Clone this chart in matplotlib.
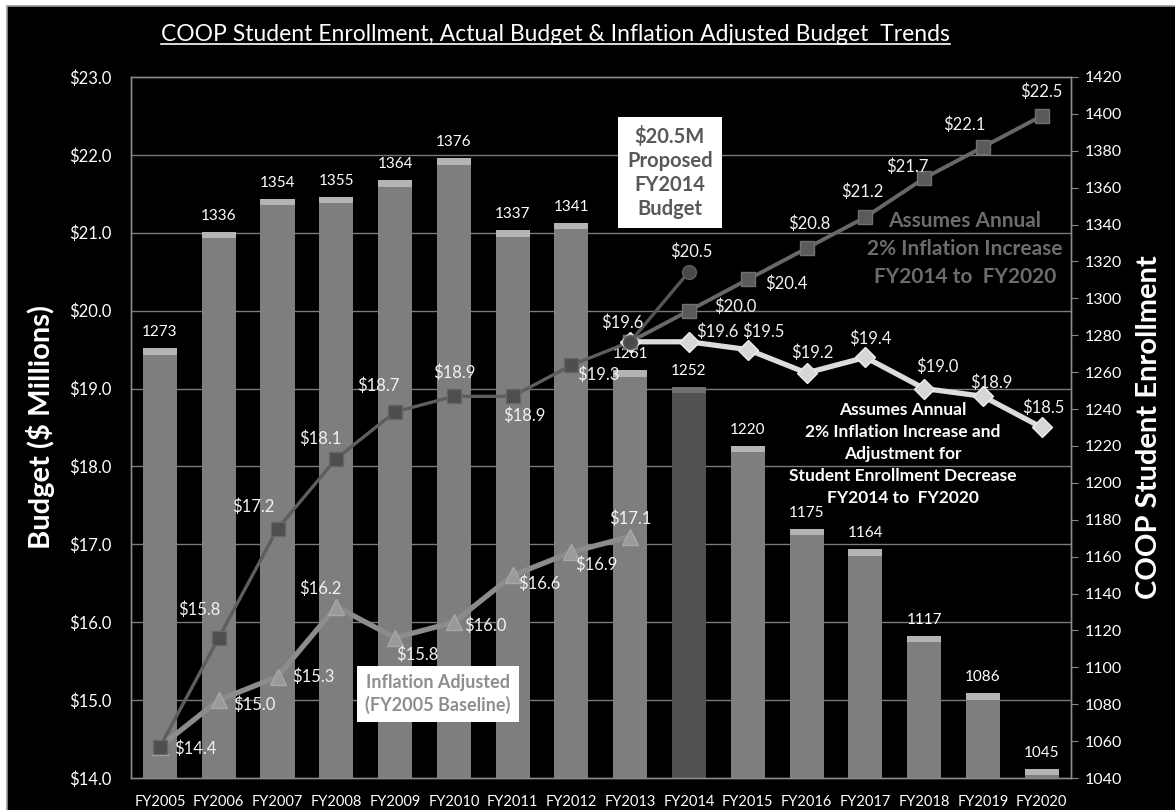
import matplotlib.pyplot as plt
import numpy as np
from matplotlib.patches import Rectangle
from matplotlib.lines import Line2D

plt.rcParams['font.family'] = ['Lato', 'DejaVu Sans']

# ---------------- data ----------------
years = ['FY2005', 'FY2006', 'FY2007', 'FY2008', 'FY2009', 'FY2010', 'FY2011', 'FY2012',
         'FY2013', 'FY2014', 'FY2015', 'FY2016', 'FY2017', 'FY2018', 'FY2019', 'FY2020']
enrollment = [1273, 1336, 1354, 1355, 1364, 1376, 1337, 1341,
              1261, 1252, 1220, 1175, 1164, 1117, 1086, 1045]

# actual budget FY2005-FY2013, proposed FY2013-FY2014
actual_budget = [14.4, 15.8, 17.2, 18.1, 18.7, 18.9, 18.9, 19.3, 19.6]
proposed_budget = [19.6, 20.5]
# projections FY2013-FY2020
inflation_proj = [19.6, 20.0, 20.4, 20.8, 21.2, 21.7, 22.1, 22.5]
enroll_adjusted = [19.6, 19.6, 19.5, 19.2, 19.4, 19.0, 18.9, 18.5]
# inflation adjusted (FY2005 baseline) FY2005-FY2013
inflation_base = [14.4, 15.0, 15.3, 16.2, 15.8, 16.0, 16.6, 16.9, 17.1]

# label offsets in pixels (dx, dy)
off_actual = [(35, -2), (-19, 28), (-24, 22), (-16, 20), (-17, 26), (0, 24), (12, -19), (27, -10), (-8, 19)]
off_proposed = (2, 20)
off_proj = [(46, 4), (39, -4), (3, 25), (-3, 25), (-17, 11), (-19, 22), (0, 24)]
off_adj = [(28, 10), (16, 18), (6, 20), (5, 19), (13, 22), (8, 14), (2, 20)]
off_base = [(36, -5), (36, 0), (-16, 18), (22, -17), (31, -4), (27, -8), (25, -13), (0, 18)]

x = np.arange(len(years))
x_actual = x[:len(actual_budget)]
x_prop = x[8:10]
x_proj = x[8:]
x_base = x[:len(inflation_base)]

fig = plt.figure(figsize=(11.75, 8.1), dpi=100, facecolor='white')
fig.patches.append(Rectangle((7 / 1175, -0.01), 1.01, 1 - 6 / 810 + 0.01, transform=fig.transFigure,
                             facecolor='black', edgecolor='#9a9a9a', linewidth=1.2, zorder=-10))

ax2 = fig.add_axes([0.1111, 0.0395, 0.8005, 0.8655])
ax1 = ax2.twinx()
ax1.yaxis.tick_left()
ax1.yaxis.set_label_position('left')
ax2.yaxis.tick_right()
ax2.yaxis.set_label_position('right')
ax1.set_zorder(ax2.get_zorder() + 1)
ax1.patch.set_visible(False)
ax2.set_facecolor('black')

# ---------------- bars (right axis) ----------------
ax2.set_ylim(1040, 1420)
ax2.set_xlim(-0.5, 15.5)
grid_vals = 1040 + (np.arange(15, 23) - 14) * 380 / 9
ax2.hlines(grid_vals, -0.5, 15.5, colors='#7a7a7a', linewidth=1.0, zorder=0)

bar_colors = ['#7e7e7e'] * len(years)
bar_colors[9] = '#515151'
ax2.bar(x, np.array(enrollment) - 1040, bottom=1040, width=0.58, color=bar_colors, zorder=2)
cap_colors = ['#b4b4b4'] * len(years)
cap_colors[9] = '#707070'
ax2.bar(x, 3.5, bottom=np.array(enrollment) - 3.5, width=0.58, color=cap_colors, zorder=3)
for xi, v in zip(x, enrollment):
    ax2.annotate(str(v), (xi, v), xytext=(0, 16), textcoords='offset pixels',
                 ha='center', va='center', color='white', fontsize=11, zorder=4)

ax2.set_yticks(np.arange(1040, 1421, 20))
ax2.tick_params(axis='y', colors='#8a8a8a', labelcolor='white', labelsize=11.5, length=5, pad=5)
ax2.set_ylabel('COOP Student Enrollment', color='white', fontsize=21, fontweight='bold', labelpad=10)

# ---------------- lines (left axis) ----------------
ax1.set_ylim(14, 23)
ax1.plot(x_base, inflation_base, color='#8c8c8c', linewidth=3.8, marker='^', markersize=11,
         markerfacecolor='#9a9a9a', markeredgecolor='#a8a8a8', zorder=3)
ax1.plot(x_actual, actual_budget, color='#5e5e5e', linewidth=2.4, marker='s', markersize=10,
         markerfacecolor='#4e4e4e', markeredgecolor='#666666', zorder=4)
ax1.plot(x_proj, inflation_proj, color='#686868', linewidth=2.8, marker='s', markersize=10,
         markerfacecolor='#5a5a5a', markeredgecolor='#707070', zorder=4)
ax1.plot(x_proj, enroll_adjusted, color='#dcdcdc', linewidth=3.8, marker='D', markersize=10,
         markerfacecolor='#d6d6d6', markeredgecolor='#ececec', zorder=5)
ax1.plot(x_prop, proposed_budget, color='#555555', linewidth=2.4, marker='o', markersize=10,
         markerfacecolor='#4a4a4a', markeredgecolor='#5e5e5e', zorder=6)

lbl = dict(textcoords='offset pixels', ha='center', va='center', color='#f2f2f2', fontsize=12, zorder=7)
for xi, v, o in zip(x_actual, actual_budget, off_actual):
    ax1.annotate(f'${v:.1f}', (xi, v), xytext=o, **lbl)
ax1.annotate(f'${proposed_budget[1]:.1f}', (x_prop[1], proposed_budget[1]), xytext=off_proposed, **lbl)
for xi, v, o in zip(x_proj[1:], inflation_proj[1:], off_proj):
    ax1.annotate(f'${v:.1f}', (xi, v), xytext=o, **lbl)
for xi, v, o in zip(x_proj[1:], enroll_adjusted[1:], off_adj):
    ax1.annotate(f'${v:.1f}', (xi, v), xytext=o, **lbl)
for xi, v, o in zip(x_base[1:], inflation_base[1:], off_base):
    ax1.annotate(f'${v:.1f}', (xi, v), xytext=o, **lbl)

ax1.set_yticks(np.arange(14, 23.1, 1))
ax1.set_yticklabels([f'${v:.1f}' for v in np.arange(14, 23.1, 1)])
ax1.tick_params(axis='y', colors='white', labelsize=12, length=0, pad=14)
ax1.set_ylabel('Budget ($ Millions)', color='white', fontsize=21, fontweight='bold', labelpad=10)

ax2.set_xticks(x)
ax2.set_xticklabels(years)
ax2.tick_params(axis='x', colors='white', labelsize=10.5, length=0, pad=12)
ax1.tick_params(axis='x', length=0)

for ax in (ax1, ax2):
    for s in ax.spines.values():
        s.set_color('#8a8a8a')
        s.set_linewidth(1.0)

# ---------------- annotations ----------------
ax1.text(0.5735, 0.864, '$20.5M\nProposed\nFY2014\nBudget', transform=ax1.transAxes,
         ha='center', va='center', fontsize=14.5, fontweight='bold', color='#595959',
         linespacing=1.25, zorder=8,
         bbox=dict(boxstyle='square,pad=0.45', facecolor='white', edgecolor='none'))
ax1.text(0.327, 0.12, 'Inflation Adjusted\n(FY2005 Baseline)', transform=ax1.transAxes,
         ha='center', va='center', fontsize=13, fontweight='bold', color='#8e8e8e',
         linespacing=1.3, zorder=8,
         bbox=dict(boxstyle='square,pad=0.45', facecolor='white', edgecolor='none'))
ax1.text(0.887, 0.755, 'Assumes Annual\n2% Inflation Increase\nFY2014 to  FY2020', transform=ax1.transAxes,
         ha='center', va='center', fontsize=15, fontweight='bold', color='#6c6c6c',
         linespacing=1.5, zorder=8)
ax1.text(0.821, 0.462, 'Assumes Annual\n2% Inflation Increase and\nAdjustment for\n'
         'Student Enrollment Decrease\nFY2014 to  FY2020', transform=ax1.transAxes,
         ha='center', va='center', fontsize=12.5, fontweight='bold', color='white',
         linespacing=1.45, zorder=8)

# title with underline
title = fig.text(0.473, 0.957, 'COOP Student Enrollment, Actual Budget & Inflation Adjusted Budget  Trends',
                 ha='center', va='center', color='white', fontsize=16.5)
fig.canvas.draw()
bb = title.get_window_extent().transformed(fig.transFigure.inverted())
fig.lines.append(Line2D([bb.x0, bb.x1], [bb.y0 + 0.002, bb.y0 + 0.002], transform=fig.transFigure,
                        color='white', linewidth=1.2))

fig.savefig('out.png', dpi=100, facecolor=fig.get_facecolor())
